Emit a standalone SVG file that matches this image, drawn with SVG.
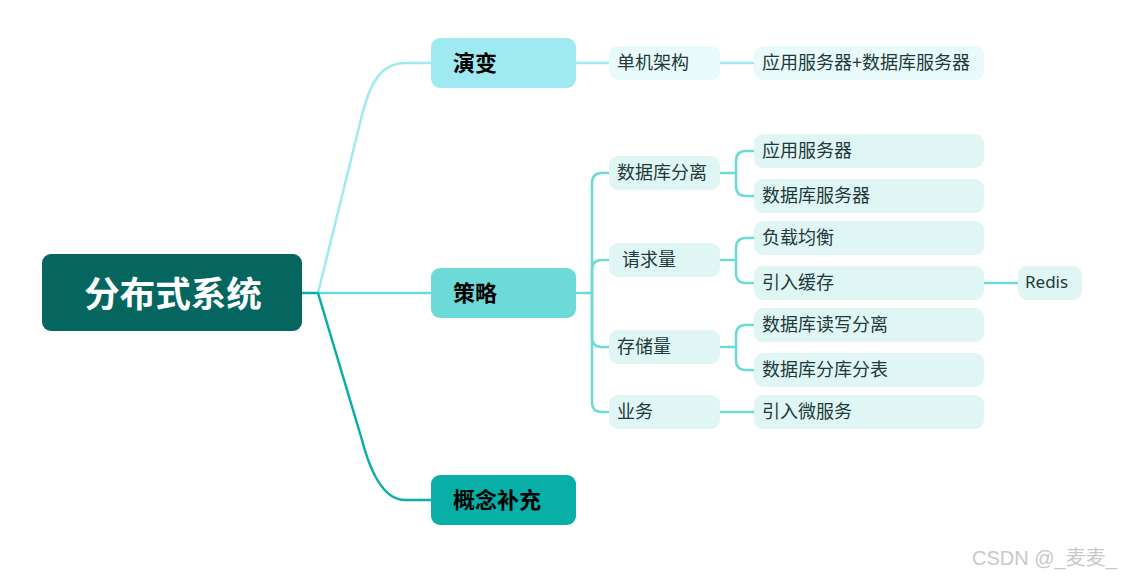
<svg xmlns="http://www.w3.org/2000/svg" width="1123" height="580" viewBox="0 0 1123 580">
<style>
  text { font-family: "Noto Sans CJK SC", "Noto Sans", sans-serif; dominant-baseline: central; transform: translateY(-2px); }
  .root { fill: #05665F; }
  .root-t { fill: #ffffff; font-size: 35.5px; font-weight: bold; }
  .l1-t { fill: #000000; font-size: 22px; font-weight: bold; }
  .l2 { fill: #E0F6F4; }
  .l2e { fill: #E9FAFB; }
  .l2-t { fill: #22393A; font-size: 18px; }
  .en { font-family: "Noto Sans", "Open Sans", sans-serif; font-size: 17px; }
  .c { fill: none; stroke-width: 2.5; stroke-linecap: round; }
  .ce { stroke: #9EEAF0; }
  .cs { stroke: #6CDAD6; }
  .ck { stroke: #07AFA7; }
  .wm { fill: #C8C8C8; font-size: 20px; font-family: "Liberation Sans", "Noto Sans CJK SC", sans-serif; }
</style>
<rect width="1123" height="580" fill="#ffffff"/>
<g id="connectors">
  <path class="c ck" d="M302,293 H318"/>
  <path class="c ce" d="M318,293 L362,115 C370,82 382,63 405,63 L431,63"/>
  <path class="c cs" d="M318,293 H431"/>
  <path class="c ck" d="M318,293 L362,440 C372,478 386,500 405,500 L431,500"/>
  <path class="c ce" d="M576,63 H609"/>
  <path class="c ce" d="M720,63 H754"/>
  <path class="c cs" d="M576,293 H592"/>
  <path class="c cs" d="M592,293 V183 Q592,173 602,173 H609"/>
  <path class="c cs" d="M592,293 V270 Q592,260 602,260 H609"/>
  <path class="c cs" d="M592,293 V337 Q592,347 602,347 H609"/>
  <path class="c cs" d="M592,293 V402 Q592,412 602,412 H609"/>
  <path class="c cs" d="M720,173 H736 M736,173 V161 Q736,151 746,151 H754 M736,173 V186 Q736,196 746,196 H754"/>
  <path class="c cs" d="M720,260 H736 M736,260 V248 Q736,238 746,238 H754 M736,260 V273 Q736,283 746,283 H754"/>
  <path class="c cs" d="M720,347 H736 M736,347 V335 Q736,325 746,325 H754 M736,347 V360 Q736,370 746,370 H754"/>
  <path class="c cs" d="M720,412 H754"/>
  <path class="c cs" d="M984,283 H1018"/>
</g>
<g id="root">
  <rect class="root" x="42" y="254" width="260" height="77" rx="9"/>
  <text class="root-t" x="173" y="293" text-anchor="middle">分布式系统</text>
</g>
<g id="n-yanbian">
  <rect x="431" y="38" width="145" height="50" rx="9" fill="#9EEAF0"/>
  <text class="l1-t" x="453" y="63">演变</text>
</g>
<g id="n-celue">
  <rect x="431" y="268" width="145" height="50" rx="9" fill="#6CDAD6"/>
  <text class="l1-t" x="453" y="293">策略</text>
</g>
<g id="n-gainian">
  <rect x="431" y="475" width="145" height="50" rx="9" fill="#07AFA7"/>
  <text class="l1-t" x="453" y="500">概念补充</text>
</g>
<g id="n-danji">
  <rect class="l2e" x="609" y="46" width="111" height="34" rx="9"/>
  <text class="l2-t" x="617" y="63">单机架构</text>
</g>
<g id="n-yingshu">
  <rect class="l2e" x="754" y="46" width="230" height="34" rx="9"/>
  <text class="l2-t" x="762" y="63">应用服务器+数据库服务器</text>
</g>
<g id="n-sjkfl">
  <rect class="l2" x="609" y="156" width="111" height="34" rx="9"/>
  <text class="l2-t" x="617" y="173">数据库分离</text>
</g>
<g id="n-qql">
  <rect class="l2" x="609" y="243" width="111" height="34" rx="9"/>
  <text class="l2-t" x="622" y="260">请求量</text>
</g>
<g id="n-ccl">
  <rect class="l2" x="609" y="330" width="111" height="34" rx="9"/>
  <text class="l2-t" x="617" y="347">存储量</text>
</g>
<g id="n-yw">
  <rect class="l2" x="609" y="395" width="111" height="34" rx="9"/>
  <text class="l2-t" x="617" y="412">业务</text>
</g>
<g id="n-yyfwq">
  <rect class="l2" x="754" y="134" width="230" height="34" rx="9"/>
  <text class="l2-t" x="762" y="151">应用服务器</text>
</g>
<g id="n-sjkfwq">
  <rect class="l2" x="754" y="179" width="230" height="34" rx="9"/>
  <text class="l2-t" x="762" y="196">数据库服务器</text>
</g>
<g id="n-fzjh">
  <rect class="l2" x="754" y="221" width="230" height="34" rx="9"/>
  <text class="l2-t" x="762" y="238">负载均衡</text>
</g>
<g id="n-yrhc">
  <rect class="l2" x="754" y="266" width="230" height="34" rx="9"/>
  <text class="l2-t" x="762" y="283">引入缓存</text>
</g>
<g id="n-redis">
  <rect class="l2" x="1018" y="266" width="64" height="34" rx="9"/>
  <text class="l2-t en" x="1025" y="283">Redis</text>
</g>
<g id="n-dxfl">
  <rect class="l2" x="754" y="308" width="230" height="34" rx="9"/>
  <text class="l2-t" x="762" y="325">数据库读写分离</text>
</g>
<g id="n-fkfb">
  <rect class="l2" x="754" y="353" width="230" height="34" rx="9"/>
  <text class="l2-t" x="762" y="370">数据库分库分表</text>
</g>
<g id="n-wfw">
  <rect class="l2" x="754" y="395" width="230" height="34" rx="9"/>
  <text class="l2-t" x="762" y="412">引入微服务</text>
</g>
<text class="wm" x="972" y="560">CSDN @_麦麦_</text>
</svg>
